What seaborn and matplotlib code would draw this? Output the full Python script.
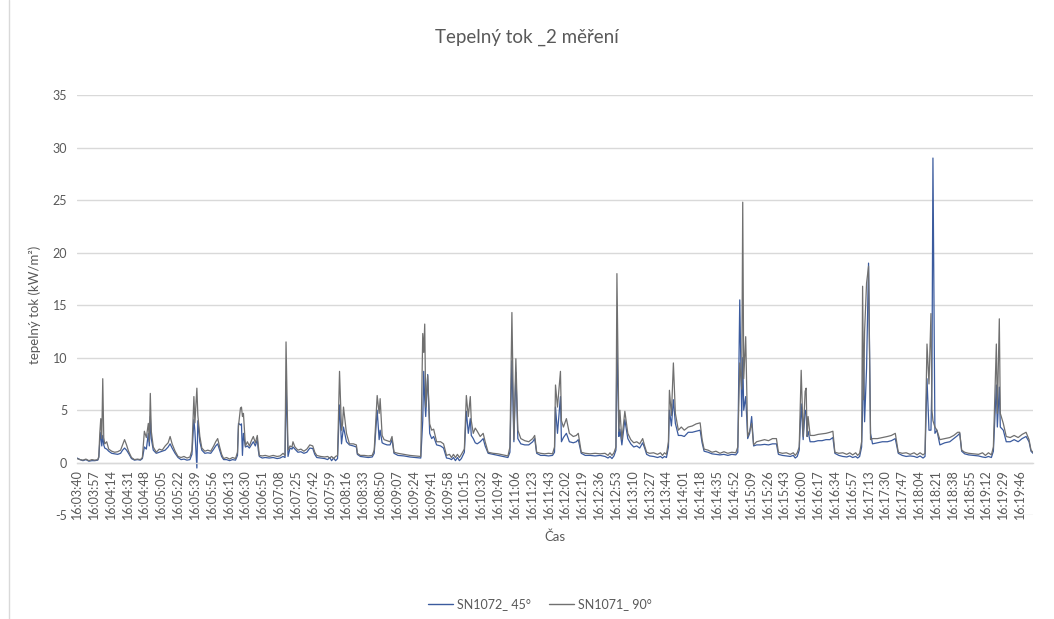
import matplotlib
matplotlib.use("Agg")
import matplotlib.pyplot as plt
from matplotlib.lines import Line2D
import pandas as pd
import seaborn as sns

# sample number (1 s record) of each plotted reading
sample = [
    0, 3, 6, 9, 12, 15, 18, 21,
    22, 23, 24, 25, 26, 27, 28, 30, 32, 35, 38, 41, 44, 46, 48, 50, 52, 55, 58, 61, 64,
    66, 68, 70, 72, 73, 74, 75, 77, 80, 83, 86, 89, 92, 94, 96, 99, 102, 105, 108, 111, 114,
    116, 118, 119, 121, 122, 124, 126, 129, 132, 135, 138, 140, 142, 144, 146, 148, 151, 154, 157, 160,
    162, 163, 165, 166, 167, 168, 170, 172, 174, 176, 178, 180, 182, 183, 184, 187, 190, 194, 198, 202, 205,
    208, 210, 211, 213, 215, 217, 218, 220, 223, 226, 229, 232, 235, 238, 240, 242, 246, 250, 253, 255, 257, 259, 261, 263,
    265, 267, 268, 269, 272, 275, 279, 282, 283, 286, 290, 294, 298,
    300, 303, 305, 306, 308, 310, 313, 316, 318, 320, 324, 330, 336, 342, 347,
    349, 350, 351, 352, 354, 356, 358, 360, 363, 367, 370, 373, 376, 378, 380, 382, 384, 386, 388,
    391, 393, 395, 397, 398, 400, 402, 404, 407, 410, 412, 415, 420, 425, 430, 435,
    437, 439, 441, 443, 445, 448, 452, 456, 460, 462, 464, 468, 472, 476, 480,
    482, 483, 485, 488, 489, 491, 494, 497, 501, 504, 506, 509, 513, 518, 523, 528, 533, 536, 538, 540, 542,
    544, 545, 547, 548, 550, 553, 556, 559, 562, 565, 568, 571, 573, 575, 578, 582, 586, 589, 591, 593, 595,
    597, 598, 600, 602, 604, 607, 610, 613, 617, 621, 625, 629, 631, 633, 637, 641, 645, 649, 653, 657, 661, 665,
    667, 669, 671, 672, 673, 675, 677, 679, 681, 683, 686, 690, 694, 698, 702, 706, 708, 712, 716, 720, 723, 725, 727,
    729, 731, 733, 735, 736, 737, 738, 740, 744, 748, 752, 756, 760, 763, 765, 769, 773, 777, 780, 783, 786, 788, 790,
    792, 793, 794, 795, 797, 799, 801, 803, 808, 813, 818, 822, 826, 829, 833, 837, 841, 845, 848, 851, 854, 856,
    858, 860, 862, 863, 864, 866, 868, 871, 876, 881, 885, 889, 891, 893, 896, 900, 905, 910, 914, 917, 920, 923,
    925, 928, 929, 931, 932, 935, 938, 942, 946, 950, 954, 958, 961, 963, 965,
]

# heat flux, sensor SN1072 at 45° (kW/m²)
flux_45 = [
    0.45, 0.3, 0.2, 0.3, 0.15, 0.2, 0.2, 0.25,
    0.5, 2.0, 2.9, 1.6, 2.6, 1.7, 1.4, 1.3, 1.1, 0.9, 0.85, 0.8, 0.9, 1.2, 1.4, 1.2, 0.9, 0.4, 0.25, 0.3, 0.25,
    0.4, 1.5, 1.3, 2.8, 1.6, 4.4, 2.3, 1.2, 0.9, 1.0, 1.1, 1.2, 1.5, 1.8, 1.4, 0.9, 0.5, 0.3, 0.35, 0.25, 0.3,
    0.8, 4.1, 3.0, -0.5, 4.0, 2.0, 1.2, 0.9, 0.95, 0.9, 1.3, 1.6, 1.8, 1.2, 0.6, 0.3, 0.3, 0.2, 0.3, 0.25,
    0.7, 3.75, 3.6, 3.7, 0.7, 2.8, 1.5, 1.6, 1.4, 1.7, 2.0, 1.6, 2.2, 1.2, 0.6, 0.45, 0.5, 0.45, 0.5, 0.4, 0.45,
    0.6, 0.5, 7.7, 0.6, 1.4, 1.3, 1.5, 1.3, 1.0, 1.05, 0.9, 1.0, 1.4, 1.35, 0.8, 0.5, 0.45, 0.4, 0.3, 0.5, 0.2, 0.45, 0.2, 0.4,
    5.5, 1.8, 2.6, 3.4, 2.0, 1.7, 1.6, 1.5, 0.8, 0.6, 0.55, 0.5, 0.55,
    0.9, 5.0, 2.2, 3.1, 1.9, 1.8, 1.7, 1.7, 2.2, 0.9, 0.7, 0.65, 0.55, 0.5, 0.45,
    4.0, 8.7, 6.0, 4.4, 8.4, 2.8, 2.3, 2.5, 1.7, 1.6, 1.4, 0.45, 0.4, 0.3, 0.5, 0.2, 0.5, 0.2, 0.4,
    1.0, 4.9, 2.8, 4.2, 2.6, 2.3, 1.9, 1.8, 2.0, 2.3, 1.6, 0.9, 0.8, 0.7, 0.6, 0.5,
    1.0, 9.7, 2.0, 8.6, 2.3, 1.8, 1.7, 1.7, 2.0, 2.3, 0.9, 0.7, 0.7, 0.65, 0.7,
    1.0, 5.3, 2.8, 6.3, 2.0, 2.4, 2.8, 2.0, 1.9, 2.0, 2.2, 0.9, 0.7, 0.7, 0.65, 0.7, 0.6, 0.45, 0.6, 0.4, 0.65,
    1.2, 11.4, 2.5, 3.2, 1.7, 4.1, 2.3, 1.8, 1.5, 1.6, 1.4, 1.9, 1.4, 0.8, 0.65, 0.6, 0.5, 0.6, 0.45, 0.6, 0.5,
    1.5, 5.0, 3.5, 6.0, 3.75, 2.6, 2.6, 2.5, 2.9, 2.9, 3.0, 3.1, 1.9, 1.1, 1.0, 0.85, 0.8, 0.75, 0.8, 0.7, 0.8, 0.75,
    1.0, 15.5, 4.4, 10.0, 5.0, 6.3, 2.3, 2.8, 4.4, 1.6, 1.7, 1.7, 1.75, 1.7, 1.8, 1.8, 0.8, 0.7, 0.65, 0.6, 0.7, 0.45, 0.6,
    1.2, 5.6, 2.2, 5.0, 4.8, 2.5, 3.0, 2.0, 2.0, 2.1, 2.1, 2.2, 2.2, 2.4, 0.9, 0.7, 0.6, 0.55, 0.65, 0.5, 0.6, 0.45, 0.6,
    1.5, 5.0, 11.0, 3.9, 9.0, 19.0, 2.8, 1.8, 1.9, 2.0, 2.0, 2.1, 2.3, 0.9, 0.7, 0.6, 0.65, 0.6, 0.5, 0.65, 0.45, 0.6,
    8.0, 3.1, 3.1, 8.0, 29.0, 2.8, 3.1, 1.7, 1.9, 2.0, 2.3, 2.6, 2.8, 1.1, 0.85, 0.75, 0.7, 0.65, 0.55, 0.5, 0.6, 0.5,
    1.1, 7.4, 3.4, 7.2, 3.4, 3.1, 2.0, 2.0, 2.2, 2.0, 2.3, 2.5, 2.0, 1.1, 0.9,
]

# heat flux, sensor SN1071 at 90° (kW/m²)
flux_90 = [
    0.4, 0.3, 0.25, 0.35, 0.2, 0.3, 0.25, 0.3,
    0.6, 2.8, 4.2, 2.3, 8.0, 2.4, 1.8, 2.0, 1.3, 1.1, 1.0, 1.05, 1.2, 1.7, 2.2, 1.7, 1.1, 0.5, 0.3, 0.35, 0.3,
    0.5, 3.0, 2.4, 3.75, 2.0, 6.6, 3.0, 1.5, 1.0, 1.3, 1.2, 1.6, 1.9, 2.5, 1.8, 1.1, 0.6, 0.5, 0.6, 0.45, 0.55,
    1.2, 6.3, 3.8, 7.1, 4.5, 2.5, 1.4, 1.1, 1.2, 1.1, 1.6, 2.0, 2.3, 1.5, 0.8, 0.4, 0.5, 0.35, 0.5, 0.4,
    1.0, 3.5, 5.2, 5.3, 4.4, 4.7, 1.6, 2.0, 1.6, 2.1, 2.5, 1.9, 2.6, 1.6, 0.7, 0.65, 0.7, 0.6, 0.7, 0.6, 0.65,
    0.9, 0.7, 11.5, 1.2, 1.6, 1.5, 2.0, 1.5, 1.2, 1.3, 1.1, 1.3, 1.7, 1.6, 1.0, 0.7, 0.6, 0.55, 0.6, 0.45, 0.6, 0.4, 0.6, 0.7,
    8.7, 3.1, 3.6, 5.3, 2.8, 1.8, 1.8, 1.7, 0.9, 0.7, 0.7, 0.65, 0.7,
    1.2, 6.4, 4.7, 6.1, 2.6, 2.2, 2.1, 2.0, 2.5, 1.0, 0.9, 0.8, 0.7, 0.65, 0.6,
    12.3, 10.5, 13.2, 5.3, 8.3, 3.7, 3.1, 3.2, 2.0, 2.0, 1.8, 0.7, 0.8, 0.5, 0.8, 0.5, 0.8, 0.5, 0.8,
    1.3, 6.4, 4.4, 6.3, 4.0, 2.8, 3.3, 3.0, 2.5, 2.8, 2.0, 1.0, 0.9, 0.85, 0.75, 0.65,
    1.5, 14.3, 2.2, 9.9, 3.1, 2.3, 2.1, 2.0, 2.3, 2.6, 1.0, 0.9, 0.85, 0.9, 0.85,
    1.5, 7.4, 5.3, 8.7, 4.0, 3.4, 4.2, 2.8, 2.5, 2.6, 2.8, 1.0, 0.9, 0.85, 0.9, 0.85, 0.9, 0.7, 0.95, 0.7, 0.95,
    1.5, 18.0, 3.0, 5.0, 2.2, 4.9, 2.8, 2.2, 1.9, 2.0, 1.8, 2.3, 1.6, 1.0, 0.9, 0.95, 0.8, 0.95, 0.7, 0.95, 0.8,
    2.0, 6.9, 4.5, 9.5, 4.7, 3.1, 3.4, 3.1, 3.4, 3.5, 3.7, 3.8, 2.2, 1.3, 1.2, 1.0, 1.1, 0.9, 1.05, 0.9, 1.0, 0.95,
    1.5, 9.5, 7.0, 24.8, 8.0, 12.0, 2.5, 3.0, 3.75, 1.7, 2.0, 2.1, 2.2, 2.1, 2.3, 2.3, 1.0, 0.9, 0.95, 0.8, 0.95, 0.7, 0.95,
    1.5, 8.8, 2.5, 6.8, 7.1, 2.5, 4.4, 2.6, 2.6, 2.7, 2.75, 2.8, 2.9, 3.0, 1.0, 0.9, 0.95, 0.8, 0.95, 0.75, 0.95, 0.7, 0.9,
    2.0, 16.8, 6.0, 12.5, 17.1, 18.7, 2.2, 2.3, 2.3, 2.4, 2.5, 2.6, 2.8, 1.0, 0.9, 0.95, 0.8, 0.95, 0.75, 0.95, 0.75, 0.9,
    11.3, 7.5, 14.2, 5.0, 4.0, 3.4, 3.1, 2.2, 2.3, 2.4, 2.6, 2.9, 2.9, 1.2, 1.0, 0.9, 0.85, 0.8, 0.95, 0.7, 0.95, 0.75,
    1.5, 11.3, 4.7, 13.7, 4.7, 3.75, 2.5, 2.4, 2.6, 2.4, 2.7, 2.9, 2.2, 1.2, 1.0,
]

# category labels shown on the time axis (every 17th reading)
tick_labels = [
    "16:03:40", "16:03:57", "16:04:14", "16:04:31", "16:04:48", "16:05:05", "16:05:22",
    "16:05:39", "16:05:56", "16:06:13", "16:06:30", "16:06:51", "16:07:08", "16:07:25",
    "16:07:42", "16:07:59", "16:08:16", "16:08:33", "16:08:50", "16:09:07", "16:09:24",
    "16:09:41", "16:09:58", "16:10:15", "16:10:32", "16:10:49", "16:11:06", "16:11:23",
    "16:11:43", "16:12:02", "16:12:19", "16:12:36", "16:12:53", "16:13:10", "16:13:27",
    "16:13:44", "16:14:01", "16:14:18", "16:14:35", "16:14:52", "16:15:09", "16:15:26",
    "16:15:43", "16:16:00", "16:16:17", "16:16:34", "16:16:57", "16:17:13", "16:17:30",
    "16:17:47", "16:18:04", "16:18:21", "16:18:38", "16:18:55", "16:19:12", "16:19:29",
    "16:19:46",
]
LABEL_STEP = 17
N_SAMPLES = 966

series_names = ["SN1072_ 45°", "SN1071_ 90°"]
series_colors = ["#3b5b9e", "#707070"]

n = len(sample)
df = pd.DataFrame({
    "sample": sample + sample,
    "flux": flux_45 + flux_90,
    "series": [series_names[0]] * n + [series_names[1]] * n,
})

sns.set_style("white")
plt.rcParams["font.family"] = ["Lato", "DejaVu Sans"]
plt.rcParams["axes.unicode_minus"] = False
TEXT = "#595959"
GRID = "#d9d9d9"

W, H = 1054, 619
fig = plt.figure(figsize=(W / 100, H / 100), dpi=100)
left, right, top, bottom = 77, 1033, 95, 515.3
ax = fig.add_axes([left / W, 1 - bottom / H, (right - left) / W, (bottom - top) / H])

sns.lineplot(
    data=df, x="sample", y="flux", hue="series", hue_order=series_names,
    palette=dict(zip(series_names, series_colors)), estimator=None,
    linewidth=0.9, legend=False, ax=ax,
)

ax.set_xlim(0, N_SAMPLES - 1)
ax.set_ylim(-5, 35)
ax.set_yticks(range(-5, 36, 5))
ax.set_axisbelow(True)
ax.yaxis.grid(True, color=GRID, linewidth=1.0)
ax.xaxis.grid(False)
for side in ("top", "right", "left"):
    ax.spines[side].set_visible(False)
ax.spines["bottom"].set_position(("data", 0))
ax.spines["bottom"].set_color(GRID)
ax.spines["bottom"].set_linewidth(1.0)

ax.set_xticks([i * LABEL_STEP for i in range(len(tick_labels))])
ax.set_xticklabels(tick_labels, rotation=90, fontsize=9, color=TEXT)
ax.tick_params(axis="x", length=0, pad=4.5)
ax.tick_params(axis="y", length=0, pad=7, labelsize=9, labelcolor=TEXT)
ax.set_xlabel("")
ax.set_ylabel("")

fig.text(0.5, 1 - 37 / H, "Tepelný tok _2 měření", ha="center", va="center",
         fontsize=13.5, color=TEXT)
fig.text(35 / W, 1 - 305 / H, "tepelný tok (kW/m²)", rotation=90,
         ha="center", va="center", fontsize=9.5, color=TEXT)
fig.text((left + right) / 2 / W, 1 - 537 / H, "Čas", ha="center", va="center",
         fontsize=9.5, color=TEXT)

handles = [Line2D([], [], color=c, linewidth=1.0) for c in series_colors]
leg = fig.legend(handles, series_names, loc="center", bbox_to_anchor=(540 / W, 1 - 604 / H),
                 ncol=2, frameon=False, fontsize=9, handlelength=2.0,
                 handletextpad=0.3, columnspacing=1.5)
for t in leg.get_texts():
    t.set_color(TEXT)

# chart frame edge on the left
fig.add_artist(Line2D([8.5 / W, 8.5 / W], [0, 1], transform=fig.transFigure,
                      color=GRID, linewidth=1.0))

fig.savefig("out.png", dpi=100)
